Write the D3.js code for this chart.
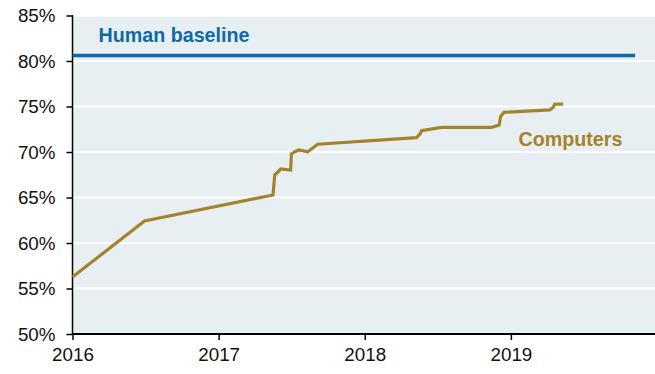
<!DOCTYPE html>
<html><head><meta charset="utf-8">
<script src="https://cdn.jsdelivr.net/npm/d3@7"></script>
<style>body{margin:0;background:#fff}svg{display:block}text{font-family:"Liberation Sans",Arial,sans-serif}</style>
</head><body><svg id="c" width="655" height="374"></svg>
<script>
const years = [2016.0,2016.493,2017.372,2017.384,2017.425,2017.493,2017.498,2017.521,2017.55,2017.61,2017.678,2018.354,2018.382,2018.388,2018.525,2018.868,2018.92,2018.929,2018.952,2019.267,2019.29,2019.30,2019.358];
const computers = [56.26,62.42,65.27,67.47,68.13,68.02,69.78,70.03,70.22,70.03,70.85,71.57,72.05,72.34,72.71,72.71,72.97,73.88,74.36,74.62,74.91,75.27,75.27];
const humanBaseline = 80.6;
const baselineSpan = [2016.0, 2019.85];
const yTicks = [50,55,60,65,70,75,80,85];
const xTicks = [2016,2017,2018,2019];
const labels = {human:"Human baseline", computers:"Computers"};

const svg = d3.select("#c");
const L=72.5, R=655, T=15.5, B=334;
const x = d3.scaleLinear().domain([2016,2019+(R-511)/146]).range([L,R]);
const y = d3.scaleLinear().domain([50,85]).range([B,T]);

svg.append("rect").attr("x",L).attr("y",T).attr("width",R-L).attr("height",B-T).attr("fill","#e7eff3");
svg.append("g").selectAll("line").data(yTicks.filter(d=>d>50)).join("line")
  .attr("x1",L).attr("x2",R).attr("y1",d=>y(d)).attr("y2",d=>y(d)).attr("stroke","#fff").attr("stroke-width",2);

const yAxis = svg.append("g").attr("transform",`translate(${L},0)`)
  .call(d3.axisLeft(y).tickValues(yTicks).tickFormat(d=>d+"%").tickSize(6).tickPadding(11));
yAxis.select(".domain").attr("stroke","#000").attr("stroke-width",1.5).attr("d",`M0,${T-0.5}V${B}`);
yAxis.selectAll(".tick line").attr("stroke","#000").attr("stroke-width",1.5);
yAxis.selectAll(".tick text").attr("font-size",18.8).attr("fill","#111").attr("font-family","Liberation Sans, Arial, sans-serif");

const xAxis = svg.append("g").attr("transform",`translate(0,${B})`)
  .call(d3.axisBottom(x).tickValues(xTicks).tickFormat(d3.format("d")).tickSize(6).tickPadding(8));
xAxis.select(".domain").attr("stroke","#000").attr("stroke-width",2).attr("d",`M${L},0H${R}`);
xAxis.selectAll(".tick line").attr("stroke","#000").attr("stroke-width",1.5);
xAxis.selectAll(".tick text").attr("font-size",18.8).attr("fill","#111").attr("font-family","Liberation Sans, Arial, sans-serif");

svg.append("line").attr("x1",x(baselineSpan[0])).attr("x2",x(baselineSpan[1]))
  .attr("y1",y(humanBaseline)).attr("y2",y(humanBaseline)).attr("stroke","#0e69a6").attr("stroke-width",3.5);

const pts = years.map((d,i)=>[d,computers[i]]);
svg.append("path").datum(pts).attr("fill","none").attr("stroke","#a5832a").attr("stroke-width",3.2)
  .attr("stroke-linejoin","miter").attr("d",d3.line().x(d=>x(d[0])).y(d=>y(d[1])));

svg.append("text").attr("x",98.5).attr("y",42).attr("font-size",19.7).attr("font-weight","bold").attr("fill","#0e69a6").text(labels.human);
svg.append("text").attr("x",518.5).attr("y",146).attr("font-size",19.7).attr("font-weight","bold").attr("fill","#a5832a").text(labels.computers);
</script></body></html>
